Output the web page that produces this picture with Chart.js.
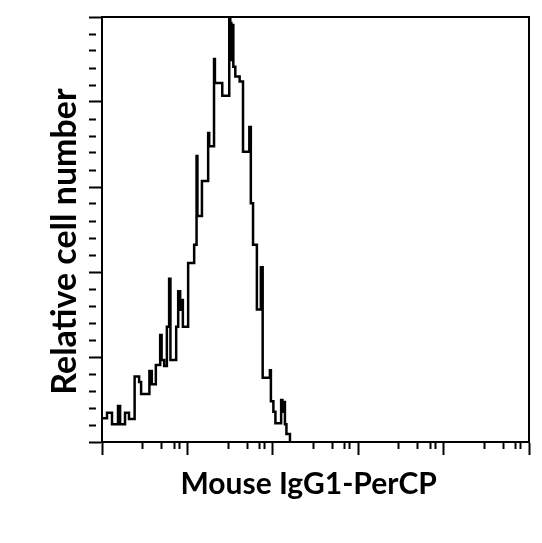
<!DOCTYPE html>
<html lang="en">
<head>
<meta charset="UTF-8">
<title>Mouse IgG1-PerCP</title>
<script src="https://cdn.jsdelivr.net/npm/chart.js"></script>
<style>
  body { margin: 0; background: #fff; }
  .chart-box { width: 542px; height: 543px; }
</style>
</head>
<body>
<div class="chart-box"><canvas id="histChart"></canvas></div>
<script>
// left edge of each histogram step (fluorescence intensity) and its relative count
const intensity = [
  1, 1.145, 1.31, 1.54, 1.63, 1.86, 2.07, 2.41, 2.72, 2.87,
  3.59, 3.83, 4.27, 4.80, 4.99, 5.34, 5.75, 6.11, 6.33, 7.39,
  7.80, 8.23, 8.58, 8.85, 10.2, 12.0, 12.8, 13.1, 14.8, 17.5,
  18.0, 20.5, 21.0, 25.6, 30.9, 31.8, 32.7, 33.6, 34.5, 36.4,
  40.9, 44.8, 53.1, 55.3, 58.7, 65.1, 72.5, 76.1, 92.5, 95.0,
  101.6, 107.3, 125.2, 129.7, 133.2, 138.7, 144.4, 158.8
];
const counts = [
  5.6, 6.9, 4.2, 8.5, 4.2, 6.9, 5.4, 15.4, 14.1, 11.3,
  16.7, 13.6, 18.1, 25.2, 19.3, 17.9, 27.1, 38.4, 19.3, 27.1,
  35.5, 31.1, 33.4, 27.1, 42.1, 46.4, 67.3, 53.2, 61.4, 72.7,
  69.6, 90.1, 84.5, 81.5, 99.6, 98.6, 89.9, 98.1, 88.3, 86.0,
  84.8, 68.3, 74.1, 56.2, 46.4, 31.2, 41.1, 15.1, 16.9, 9.6,
  7.1, 4.4, 9.9, 7.1, 9.4, 4.2, 1.9, 0
];

// axis ticks (no labels are shown)
const xMajorTicks = [1, 10, 100, 1000, 10000, 100000];
const xMinorSteps = [3, 5, 7, 8];
const yMax = 100;
const yStep = 4;
const yMajorEvery = 20;

const black = '#000';
const nbsp = '\u00a0';

// major ticks full length, minor ticks cut short with a dash pattern
function tickDash(minorLen) {
  return ctx => (ctx.tick && ctx.tick.major) ? [] : [minorLen, 40];
}

const xTickValues = [];
xMajorTicks.forEach((m, i) => {
  xTickValues.push({ value: m, major: true });
  if (i < xMajorTicks.length - 1) {
    xMinorSteps.forEach(k => xTickValues.push({ value: m * k, major: false }));
  }
});

const points = intensity.map((x, i) => ({ x: x, y: counts[i] }));

new Chart(document.getElementById('histChart'), {
  type: 'line',
  data: {
    datasets: [{
      data: points,
      stepped: true,
      borderColor: black,
      borderWidth: 2.5,
      pointRadius: 0,
      fill: false
    }]
  },
  options: {
    responsive: true,
    maintainAspectRatio: false,
    animation: false,
    layout: { padding: { left: 38, right: 13, top: 17, bottom: 20 } },
    plugins: { legend: { display: false }, tooltip: { enabled: false } },
    scales: {
      x: {
        type: 'logarithmic',
        position: 'bottom',
        min: 1,
        max: 100000,
        afterBuildTicks: scale => { scale.ticks = xTickValues.map(t => ({ ...t })); },
        ticks: { display: false, autoSkip: false },
        grid: {
          drawOnChartArea: false,
          tickLength: 13,
          tickWidth: 2,
          tickColor: black,
          tickBorderDash: tickDash(6)
        },
        border: { color: black, width: 2 },
        title: {
          display: true,
          // trailing spaces nudge the centred title a little to the left
          text: 'Mouse IgG1-PerCP' + nbsp + nbsp,
          color: black,
          font: { family: 'Lato', size: 30, weight: 'bold', lineHeight: 1.2 },
          padding: { top: 11, bottom: 21 }
        }
      },
      y: {
        type: 'linear',
        position: 'left',
        min: 0,
        max: yMax,
        afterBuildTicks: scale => {
          scale.ticks.forEach(t => { t.major = t.value % yMajorEvery === 0; });
        },
        ticks: { display: false, autoSkip: false, stepSize: yStep },
        grid: {
          drawOnChartArea: false,
          tickLength: 13,
          tickWidth: 2,
          tickColor: black,
          tickBorderDash: tickDash(7)
        },
        border: { color: black, width: 2 },
        title: {
          display: true,
          // trailing spaces push the rotated title slightly downwards
          text: 'Relative cell number' + nbsp + nbsp + nbsp,
          color: black,
          font: { family: 'Lato', size: 34, weight: 'bold', lineHeight: 1.2 },
          padding: { top: 7, bottom: 3.2 }
        }
      },
      // top and right edges of the frame
      x2: {
        type: 'linear',
        position: 'top',
        ticks: { display: false },
        grid: { drawOnChartArea: false, drawTicks: false },
        border: { color: black, width: 2 }
      },
      y2: {
        type: 'linear',
        position: 'right',
        ticks: { display: false },
        grid: { drawOnChartArea: false, drawTicks: false },
        border: { color: black, width: 2 }
      }
    }
  }
});
</script>
</body>
</html>
